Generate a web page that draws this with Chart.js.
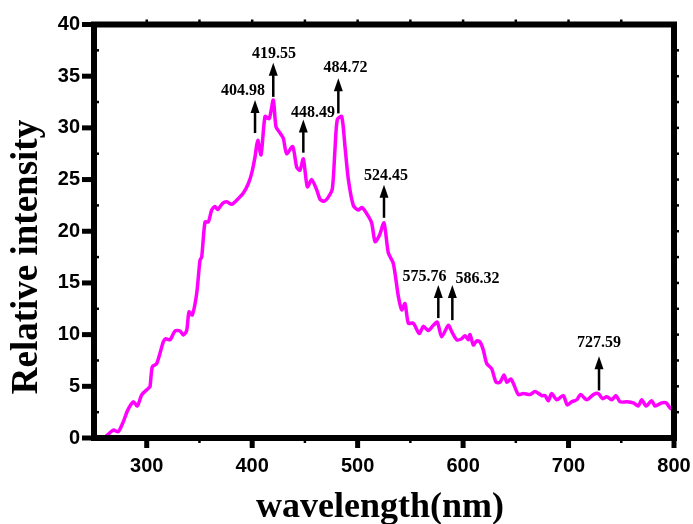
<!DOCTYPE html>
<html>
<head>
<meta charset="utf-8">
<script src="https://cdn.jsdelivr.net/npm/chart.js@4/dist/chart.umd.min.js"></script>
<style>
  html, body { margin: 0; padding: 0; background: #fff; }
  #wrap { width: 693px; height: 524px; position: relative; }
</style>
</head>
<body>
<div id="wrap"><canvas id="c"></canvas></div>
<script>
// ---- data ----
const wavelengths = [259.8, 268.3, 273.0, 277.8, 282.0, 287.3, 291.1, 295.2, 301.5, 303.1,
  305.3, 309.5, 315.7, 318.0, 322.1, 326.8, 331.6, 334.7, 337.9, 340.1,
  343.2, 347.4, 350.5, 352.1, 355.3, 358.4, 361.6, 364.7, 367.3, 372.0,
  375.8, 380.6, 385.3, 391.6, 396.3, 399.5, 402.7, 405.2, 408.4, 412.2,
  416.2, 420.0, 422.6, 426.4, 429.5, 432.7, 438.4, 442.2, 445.3, 448.5,
  452.3, 456.4, 461.2, 464.3, 468.1, 472.2, 476.0, 478.5, 480.7, 484.9,
  488.0, 491.2, 495.9, 500.6, 503.9, 508.6, 513.3, 516.5, 520.6, 525.0,
  529.1, 533.8, 538.6, 541.8, 544.9, 548.1, 552.8, 558.5, 562.3, 567.0,
  571.8, 575.6, 579.7, 586.0, 589.2, 594.0, 598.7, 601.8, 604.9, 606.6,
  609.7, 612.9, 616.0, 619.2, 622.4, 627.1, 631.2, 635.0, 638.8, 641.4,
  645.2, 647.6, 652.4, 657.1, 663.5, 668.2, 674.6, 677.7, 680.8, 684.0,
  688.8, 695.0, 698.8, 703.0, 707.7, 711.5, 717.2, 723.5, 728.2, 732.4,
  736.2, 740.9, 745.0, 748.8, 755.2, 761.4, 766.2, 769.4, 773.5, 778.9,
  782.0, 788.4, 792.5, 796.3, 799.5];
const intensity = [0, 0.77, 0.61, 1.58, 2.7, 3.5, 3.1, 4.16, 4.8, 4.96,
  6.9, 7.2, 9.3, 9.6, 9.5, 10.35, 10.35, 9.96, 10.4, 12.2,
  11.9, 14.0, 17.2, 17.5, 20.9, 20.9, 22.05, 22.4, 22.1, 22.7,
  22.85, 22.6, 23.0, 23.7, 24.6, 25.6, 27.2, 28.8, 27.4, 31.1,
  30.9, 32.7, 30.1, 29.5, 29.0, 27.5, 28.2, 26.2, 25.9, 27.0,
  24.3, 25.0, 24.0, 23.1, 22.9, 23.3, 24.1, 27.9, 30.8, 31.1,
  28.2, 25.0, 22.5, 22.05, 22.3, 21.7, 20.8, 19.0, 19.6, 20.8,
  17.9, 16.9, 13.7, 12.4, 13.0, 11.1, 11.1, 10.1, 10.8, 10.4,
  10.9, 11.2, 9.8, 10.9, 10.3, 9.5, 9.6, 9.9, 9.5, 10.0,
  9.0, 9.4, 9.3, 8.5, 7.2, 6.7, 5.4, 5.4, 6.1, 5.4,
  5.7, 5.3, 4.2, 4.3, 4.2, 4.5, 4.1, 4.1, 3.6, 4.3,
  3.7, 4.1, 3.2, 3.5, 3.7, 4.2, 3.7, 4.2, 4.3, 3.8,
  4.0, 3.7, 4.1, 3.5, 3.5, 3.4, 3.1, 3.7, 3.1, 3.6,
  3.1, 3.4, 3.4, 2.9, 2.7];

const xTickValues = [300, 400, 500, 600, 700, 800];
const yTickValues = [0, 5, 10, 15, 20, 25, 30, 35, 40];

// peak annotations (data coordinates)
const peakLabels = ['404.98', '419.55', '448.49', '484.72', '524.45', '575.76', '586.32', '727.59'];
const arrowX     = [402.7, 420.0, 448.5, 481.7, 525.0, 576.5, 589.8, 728.9];
const arrowBase  = [29.5, 33.0, 27.6, 31.4, 21.3, 11.6, 11.4, 4.6];
const arrowTip   = [32.7, 36.3, 30.8, 34.8, 24.5, 14.8, 14.8, 7.9];
const labelX     = [391.3, 420.7, 457.7, 488.6, 526.9, 563.4, 613.7, 728.9];
const labelY     = [33.6, 37.2, 31.5, 35.8, 25.4, 15.6, 15.4, 9.2];

const points = wavelengths.map((w, i) => ({ x: w, y: intensity[i] }));

const framePlugin = {
  id: 'frame',
  afterDatasetsDraw(chart) {
    const { ctx, chartArea: { left, right, top, bottom }, scales: { x, y } } = chart;
    const line = (x1, y1, x2, y2) => { ctx.beginPath(); ctx.moveTo(x1, y1); ctx.lineTo(x2, y2); ctx.stroke(); };
    ctx.save();
    ctx.strokeStyle = '#000';
    ctx.fillStyle = '#000';
    // frame
    ctx.lineWidth = 6;
    ctx.lineJoin = 'miter';
    ctx.strokeRect(left, top, right - left, bottom - top);
    // major ticks
    ctx.lineWidth = 5;
    yTickValues.forEach(v => { const py = y.getPixelForValue(v); line(left - 12, py, left, py); });
    xTickValues.forEach(v => { const px = x.getPixelForValue(v); line(px, bottom, px, bottom + 10); });
    // minor ticks
    ctx.lineWidth = 2.5;
    for (let v = 2.5; v < 40; v += 5) { const py = y.getPixelForValue(v); line(left, py, left + 5, py); }
    for (let v = 2.5; v < 40; v += 2.5) { const py = y.getPixelForValue(v); line(right, py, right + 5, py); }
    for (let v = 300; v < 800; v += 50) { const px = x.getPixelForValue(v); line(px, top, px, top - 5); }
    for (let v = 350; v < 800; v += 100) { const px = x.getPixelForValue(v); line(px, bottom, px, bottom + 5); }
    // arrows + labels
    ctx.lineWidth = 2.5;
    ctx.font = 'bold 16px "Liberation Serif", "Times New Roman", serif';
    ctx.textAlign = 'center';
    ctx.textBaseline = 'middle';
    peakLabels.forEach((t, i) => {
      const px = x.getPixelForValue(arrowX[i]);
      const pb = y.getPixelForValue(arrowBase[i]);
      const pt = y.getPixelForValue(arrowTip[i]);
      line(px, pb, px, pt + 10);
      ctx.beginPath();
      ctx.moveTo(px, pt);
      ctx.lineTo(px - 4.5, pt + 13);
      ctx.lineTo(px + 4.5, pt + 13);
      ctx.closePath();
      ctx.fill();
      ctx.fillText(t, x.getPixelForValue(labelX[i]), y.getPixelForValue(labelY[i]));
    });
    // axis titles
    ctx.font = 'bold 37px "Liberation Serif", "Times New Roman", serif';
    ctx.save();
    ctx.translate(27, 257);
    ctx.rotate(-Math.PI / 2);
    ctx.textBaseline = 'middle';
    ctx.fillText('Relative intensity', 0, 0);
    ctx.restore();
    ctx.font = 'bold 36px "Liberation Serif", "Times New Roman", serif';
    ctx.textBaseline = 'alphabetic';
    ctx.fillText('wavelength(nm)', 380, 517);
    ctx.restore();
  }
};

new Chart(document.getElementById('c'), {
  type: 'line',
  data: {
    datasets: [{
      data: points,
      borderColor: '#FF00FF',
      borderWidth: 3.5,
      pointRadius: 0,
      tension: 0.25,
      fill: false,
      clip: false
    }]
  },
  options: {
    responsive: true,
    maintainAspectRatio: false,
    animation: false,
    layout: { padding: { left: 0, right: 19, top: 24.5, bottom: 0 } },
    plugins: { legend: { display: false }, tooltip: { enabled: false } },
    scales: {
      x: {
        type: 'linear',
        min: 250, max: 800,
        grid: { display: false, drawTicks: false },
        border: { display: false },
        afterBuildTicks: s => { s.ticks = xTickValues.map(v => ({ value: v })); },
        afterFit: s => { s.height = 86; s.paddingLeft = 0; s.paddingRight = 0; },
        ticks: {
          maxRotation: 0,
          padding: 16,
          color: '#000',
          font: { family: '"Liberation Sans", Arial, sans-serif', weight: 'bold', size: 20 }
        }
      },
      y: {
        min: 0, max: 40,
        grid: { display: false, drawTicks: false },
        border: { display: false },
        afterBuildTicks: s => { s.ticks = yTickValues.map(v => ({ value: v })); },
        afterFit: s => { s.width = 94; s.paddingTop = 0; s.paddingBottom = 0; },
        ticks: {
          padding: 14,
          color: '#000',
          font: { family: '"Liberation Sans", Arial, sans-serif', weight: 'bold', size: 20 }
        }
      }
    }
  },
  plugins: [framePlugin]
});
</script>
</body>
</html>
